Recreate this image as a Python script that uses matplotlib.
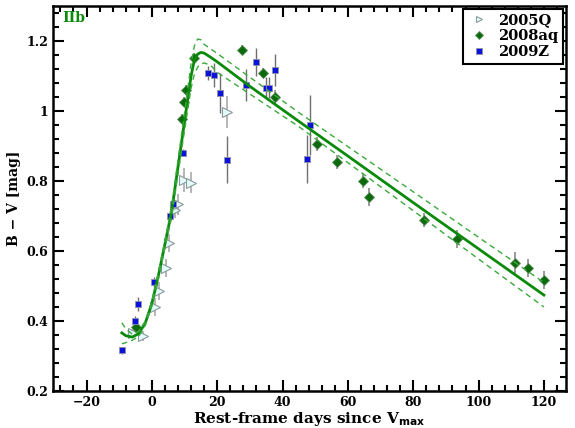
import matplotlib
matplotlib.use("Agg")
import matplotlib.pyplot as plt
from matplotlib.lines import Line2D
from matplotlib.ticker import MultipleLocator

# 2005Q (open triangles)
q_day = [-5.8, -2.7, 1.0, 2.1, 4.2, 5.2, 7.0, 8.0, 9.9, 11.9, 22.9]
q_bv = [0.366, 0.357, 0.44, 0.486, 0.551, 0.622, 0.718, 0.733, 0.803, 0.795, 0.997]
q_err = [0.015, 0.015, 0.025, 0.025, 0.025, 0.025, 0.025, 0.03, 0.035, 0.03, 0.045]

# 2008aq (diamonds)
aq_day = [-4.9, 9.1, 9.9, 10.3, 12.9, 27.7, 34.0, 37.7, 50.4, 56.6, 64.5, 66.4,
          83.2, 93.3, 111.0, 115.0, 119.9]
aq_bv = [0.383, 0.977, 1.026, 1.059, 1.151, 1.174, 1.108, 1.039, 0.905, 0.854, 0.80, 0.754,
         0.689, 0.634, 0.566, 0.551, 0.517]
aq_err = [0.015, 0.015, 0.015, 0.015, 0.015, 0.015, 0.015, 0.02, 0.02, 0.02, 0.02, 0.025,
          0.02, 0.025, 0.03, 0.025, 0.025]

# 2009Z (squares)
z_day = [-9.2, -5.2, -4.3, 0.6, 5.5, 6.4, 9.4, 17.2, 19.0, 21.0, 23.0, 28.8, 32.0,
         34.8, 35.7, 37.8, 47.5, 48.5]
z_bv = [0.317, 0.40, 0.449, 0.511, 0.70, 0.734, 0.88, 1.108, 1.103, 1.051, 0.86, 1.074, 1.14,
        1.066, 1.066, 1.117, 0.863, 0.96]
z_err = [0.01, 0.015, 0.02, 0.015, 0.015, 0.015, 0.01, 0.02, 0.035, 0.057, 0.067, 0.047, 0.04,
         0.03, 0.03, 0.045, 0.068, 0.085]

# fitted template and its uncertainty band
fit_day = [-9.2, -8, -6, -4, -2, 0, 2, 4, 6, 8, 10, 12, 13, 14, 15, 16, 18, 20, 30, 45, 60, 80, 100, 120]
fit_mid = [0.366, 0.358, 0.354, 0.364, 0.395, 0.45, 0.53, 0.62, 0.71, 0.84, 0.97, 1.10, 1.145,
           1.162, 1.167, 1.165, 1.153, 1.14, 1.07, 0.97, 0.871, 0.738, 0.606, 0.474]
fit_hi = [0.395, 0.378, 0.362, 0.37, 0.40, 0.457, 0.54, 0.63, 0.725, 0.86, 0.995, 1.135, 1.185,
          1.205, 1.203, 1.19, 1.177, 1.164, 1.096, 0.995, 0.898, 0.769, 0.639, 0.51]
fit_lo = [0.335, 0.338, 0.345, 0.356, 0.388, 0.443, 0.52, 0.61, 0.695, 0.82, 0.945, 1.065, 1.105,
          1.125, 1.134, 1.137, 1.13, 1.11, 1.048, 0.955, 0.852, 0.715, 0.577, 0.44]

plt.rcParams['font.family'] = ['DejaVu Serif']
plt.rcParams['font.weight'] = 'bold'

fig = plt.figure(figsize=(5.75, 4.28), dpi=100)
ax = fig.add_axes([0.092, 0.0864, 0.892, 0.9])

q_style = dict(marker='>', ms=6.5, mfc='#e4fbfb', mec='#8a9a9a', mew=0.8)
aq_style = dict(marker='D', ms=5, mfc='#0b6b0b', mec='#5a8a5a', mew=0.6)
z_style = dict(marker='s', ms=5, mfc='#0a14d8', mec='#9090b0', mew=0.6)

ax.errorbar(q_day, q_bv, yerr=q_err, ls='none', ecolor='#b0b0b0', elinewidth=1.3,
            capsize=0, zorder=3, **q_style)
ax.errorbar(aq_day, aq_bv, yerr=aq_err, ls='none', ecolor='#8a8a8a', elinewidth=1.2,
            capsize=0, zorder=3, **aq_style)
ax.errorbar(z_day, z_bv, yerr=z_err, ls='none', ecolor='#707070', elinewidth=1.0,
            capsize=0, zorder=3, **z_style)

ax.plot(fit_day, fit_mid, color='#0a8a0a', lw=2, zorder=4)
ax.plot(fit_day, fit_hi, color='#3aa83a', lw=1, ls=(0, (4, 3)), zorder=4)
ax.plot(fit_day, fit_lo, color='#3aa83a', lw=1, ls=(0, (4, 3)), zorder=4)

ax.text(-27.5, 1.255, 'IIb', color='#0a8a0a', fontsize=10, fontweight='bold')

ax.set_xlim(-30.3, 126.7)
ax.set_ylim(0.2, 1.3)
ax.xaxis.set_major_locator(MultipleLocator(20))
ax.xaxis.set_minor_locator(MultipleLocator(4))
ax.yaxis.set_minor_locator(MultipleLocator(0.04))
ax.set_yticks([0.2, 0.4, 0.6, 0.8, 1.0, 1.2])
ax.set_yticklabels(['0.2', '0.4', '0.6', '0.8', '1', '1.2'])
ax.tick_params(which='both', direction='in', top=True, right=True, width=1.5, labelsize=9)
ax.tick_params(which='major', length=8)
ax.tick_params(which='minor', length=4)
for s in ax.spines.values():
    s.set_linewidth(1.8)

ax.set_xlabel('Rest-frame days since V$_{\\mathbf{max}}$', fontsize=11, fontweight='bold', labelpad=1)
ax.set_ylabel('B − V [mag]', fontsize=10, fontweight='bold')

handles = [Line2D([], [], ls='none', **dict(q_style, ms=5)),
           Line2D([], [], ls='none', **dict(aq_style, ms=4)),
           Line2D([], [], ls='none', **dict(z_style, ms=4))]
leg = ax.legend(handles, ['2005Q', '2008aq', '2009Z'], loc='upper right', fontsize=10.5,
                frameon=True, fancybox=False, handletextpad=0.5, borderpad=0.3,
                labelspacing=0.15, handlelength=1.6, borderaxespad=0.2, framealpha=1)
leg.get_frame().set_edgecolor('black')
leg.get_frame().set_linewidth(1.5)

fig.savefig('out.png', dpi=100)
